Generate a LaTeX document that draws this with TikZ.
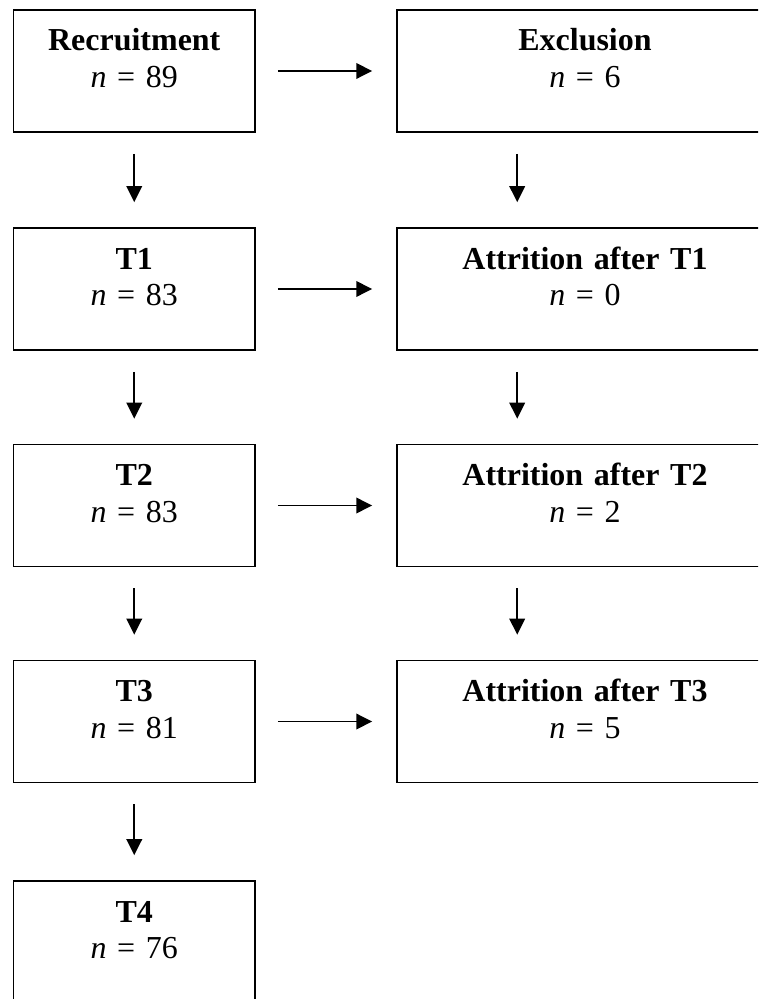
\documentclass[tikz,border=0pt]{standalone}
\usepackage{fontspec}
\setmainfont{Liberation Serif}
\usepackage{tikz}
\usetikzlibrary{arrows.meta, positioning}
\tikzset{
  box/.style={rectangle, draw=black, line width=0.9pt,
    text width=4.83cm, align=center, inner xsep=0pt, inner ysep=0pt,
    text height=0.82cm, text depth=1.62cm,
    font=\fontsize{18.2pt}{21pt}\selectfont},
  sidebox/.style={box, text width=7.52cm},
  arrow/.style={-{Triangle[length=0.32cm, width=0.31cm]}, line width=1.1pt},
  downarrow/.style={arrow, shorten <=0.42cm, shorten >=0.5cm},
  rightarrow/.style={arrow, shorten <=0.44cm, shorten >=0.48cm}
}

\begin{document}
\begin{tikzpicture}[x=0.02cm, y=-0.02cm]
  \clip (0,0) rectangle (758,999);

  % Main flow
  \node (rec) at (134.25, 71) [box] {\textbf{Recruitment}\\ \textit{n} = 89};
  \node (t1) at (134.25, 289) [box] {\textbf{T1}\\ \textit{n} = 83};
  \node (t2) at (134.25, 505.5) [box] {\textbf{T2}\\ \textit{n} = 83};
  \node (t3) at (134.25, 721.5) [box] {\textbf{T3}\\ \textit{n} = 81};
  \node (t4) at (134.25, 942) [box] {\textbf{T4}\\ \textit{n} = 76};

  % Losses
  \node (excl) at (585, 71) [sidebox] {\textbf{Exclusion}\\ \textit{n} = 6};
  \node (att1) at (585, 289) [sidebox] {\textbf{Attrition after T1}\\ \textit{n} = 0};
  \node (att2) at (585, 505.5) [sidebox] {\textbf{Attrition after T2}\\ \textit{n} = 2};
  \node (att3) at (585, 721.5) [sidebox] {\textbf{Attrition after T3}\\ \textit{n} = 5};

  % Down arrows
  \draw[downarrow] (rec) -- (t1);
  \draw[downarrow] (t1) -- (t2);
  \draw[downarrow] (t2) -- (t3);
  \draw[downarrow] (t3) -- (t4);
  \draw[downarrow] ([xshift=2.42cm]excl.south west) -- ([xshift=2.42cm]att1.north west);
  \draw[downarrow] ([xshift=2.42cm]att1.south west) -- ([xshift=2.42cm]att2.north west);
  \draw[downarrow] ([xshift=2.42cm]att2.south west) -- ([xshift=2.42cm]att3.north west);

  % Side arrows
  \draw[rightarrow] (rec) -- (excl);
  \draw[rightarrow] (t1) -- (att1);
  \draw[rightarrow] (t2) -- (att2);
  \draw[rightarrow] (t3) -- (att3);
\end{tikzpicture}
\end{document}
